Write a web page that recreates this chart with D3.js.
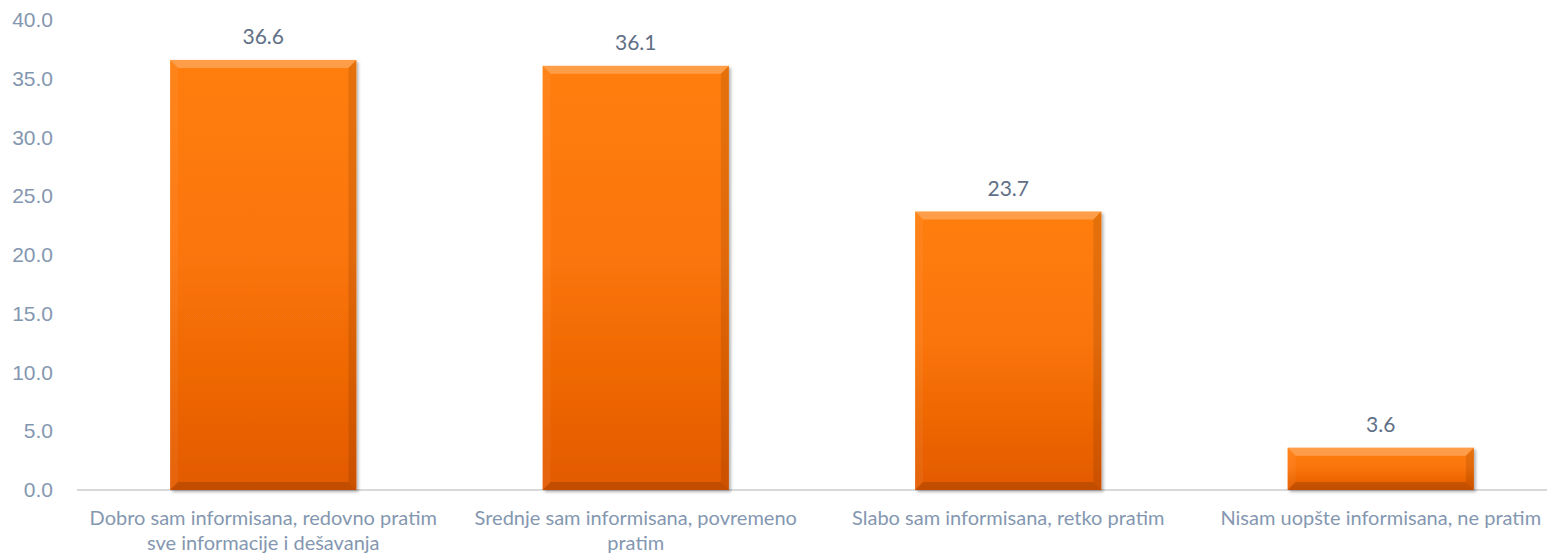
<!DOCTYPE html>
<html>
<head>
<meta charset="utf-8">
<script src="https://cdn.jsdelivr.net/npm/d3@7"></script>
<style>
  html, body { margin: 0; padding: 0; background: #fff; }
  svg { display: block; font-family: Lato, "Open Sans", sans-serif; }
</style>
</head>
<body>
<div id="container"></div>
<script>
// chart data
const categories = [
    ["Dobro sam informisana, redovno pratim", "sve informacije i dešavanja"],
    ["Srednje sam informisana, povremeno", "pratim"],
    ["Slabo sam informisana, retko pratim"],
    ["Nisam uopšte informisana, ne pratim"]
];
const values = [36.6, 36.1, 23.7, 3.6];
const yTicks = [0, 5, 10, 15, 20, 25, 30, 35, 40];

document.addEventListener("DOMContentLoaded", function() {
    const width = 1552, height = 553;
    const margin = { top: 20, right: -15, bottom: 63, left: 77 };
    const innerW = width - margin.left - margin.right;
    const innerH = height - margin.top - margin.bottom;

    const svg = d3.select("#container")
        .append("svg")
            .attr("width", width)
            .attr("height", height);

    const defs = svg.append("defs");

    const grad = defs.append("linearGradient")
        .attr("id", "barGrad")
        .attr("x1", 0).attr("y1", 0).attr("x2", 0).attr("y2", 1);
    grad.append("stop").attr("offset", "0%").attr("stop-color", "#ff7e08");
    grad.append("stop").attr("offset", "45%").attr("stop-color", "#fb7507");
    grad.append("stop").attr("offset", "100%").attr("stop-color", "#e35a05");

    const shadow = defs.append("filter")
        .attr("id", "shadow")
        .attr("x", "-10%").attr("y", "-10%")
        .attr("width", "130%").attr("height", "130%");
    shadow.append("feDropShadow")
        .attr("dx", 2).attr("dy", 2)
        .attr("stdDeviation", 1.5)
        .attr("flood-color", "#000")
        .attr("flood-opacity", 0.3);

    const g = svg.append("g")
        .attr("transform", "translate(" + margin.left + "," + margin.top + ")");

    const x = d3.scaleBand()
        .domain(d3.range(categories.length))
        .range([0, innerW])
        .paddingInner(0.5)
        .paddingOuter(0.25);

    const y = d3.scaleLinear()
        .domain([0, 40])
        .range([innerH, 0]);

    // y axis labels (no line, no ticks)
    const yAxis = g.append("g")
        .call(d3.axisLeft(y).tickValues(yTicks).tickFormat(d3.format(".1f")).tickSize(0).tickPadding(24));
    yAxis.select(".domain").remove();
    yAxis.selectAll("text")
        .attr("fill", "#8497b0")
        .style("font-size", "21px");

    // baseline
    g.append("line")
        .attr("x1", 0)
        .attr("x2", 1547 - margin.left)
        .attr("y1", y(0))
        .attr("y2", y(0))
        .attr("stroke", "#d9d9d9")
        .attr("stroke-width", 2);

    // bars
    const bars = g.selectAll(".bar")
        .data(values)
        .enter().append("g")
        .attr("class", "bar");

    bars.append("rect")
        .attr("x", (d, i) => x(i))
        .attr("y", d => y(d))
        .attr("width", x.bandwidth())
        .attr("height", d => y(0) - y(d))
        .attr("fill", "url(#barGrad)")
        .attr("filter", "url(#shadow)");

    // bevel faces
    const bevel = 8;
    function face(d, i, side) {
        const x0 = x(i), x1 = x(i) + x.bandwidth();
        const y0 = y(d), y1 = y(0);
        const b = Math.min(bevel, (y1 - y0) / 2);
        if (side === "top") return [[x0, y0], [x1, y0], [x1 - b, y0 + b], [x0 + b, y0 + b]];
        if (side === "bottom") return [[x0, y1], [x1, y1], [x1 - b, y1 - b], [x0 + b, y1 - b]];
        if (side === "left") return [[x0, y0], [x0 + b, y0 + b], [x0 + b, y1 - b], [x0, y1]];
        return [[x1, y0], [x1 - b, y0 + b], [x1 - b, y1 - b], [x1, y1]];
    }
    const faces = [
        { side: "top", fill: "#fff", opacity: 0.25 },
        { side: "left", fill: "#fff", opacity: 0.05 },
        { side: "right", fill: "#000", opacity: 0.1 },
        { side: "bottom", fill: "#000", opacity: 0.15 }
    ];
    faces.forEach(f => {
        bars.append("polygon")
            .attr("points", (d, i) => face(d, i, f.side).map(p => p.join(",")).join(" "))
            .attr("fill", f.fill)
            .attr("fill-opacity", f.opacity);
    });

    // value labels
    g.selectAll(".value")
        .data(values)
        .enter().append("text")
        .attr("class", "value")
        .attr("x", (d, i) => x(i) + x.bandwidth() / 2)
        .attr("y", d => y(d) - 16)
        .attr("text-anchor", "middle")
        .attr("fill", "#5f6f86")
        .style("font-size", "21px")
        .text(d => d3.format(".1f")(d));

    // category labels
    const cat = g.selectAll(".cat")
        .data(categories)
        .enter().append("text")
        .attr("class", "cat")
        .attr("text-anchor", "middle")
        .attr("fill", "#8497b0")
        .style("font-size", "20px");
    cat.selectAll("tspan")
        .data((d, i) => d.map(line => ({ line: line, i: i })))
        .enter().append("tspan")
        .attr("x", d => x(d.i) + x.bandwidth() / 2)
        .attr("y", (d, j) => y(0) + 35 + j * 25)
        .text(d => d.line);
});
</script>
</body>
</html>
